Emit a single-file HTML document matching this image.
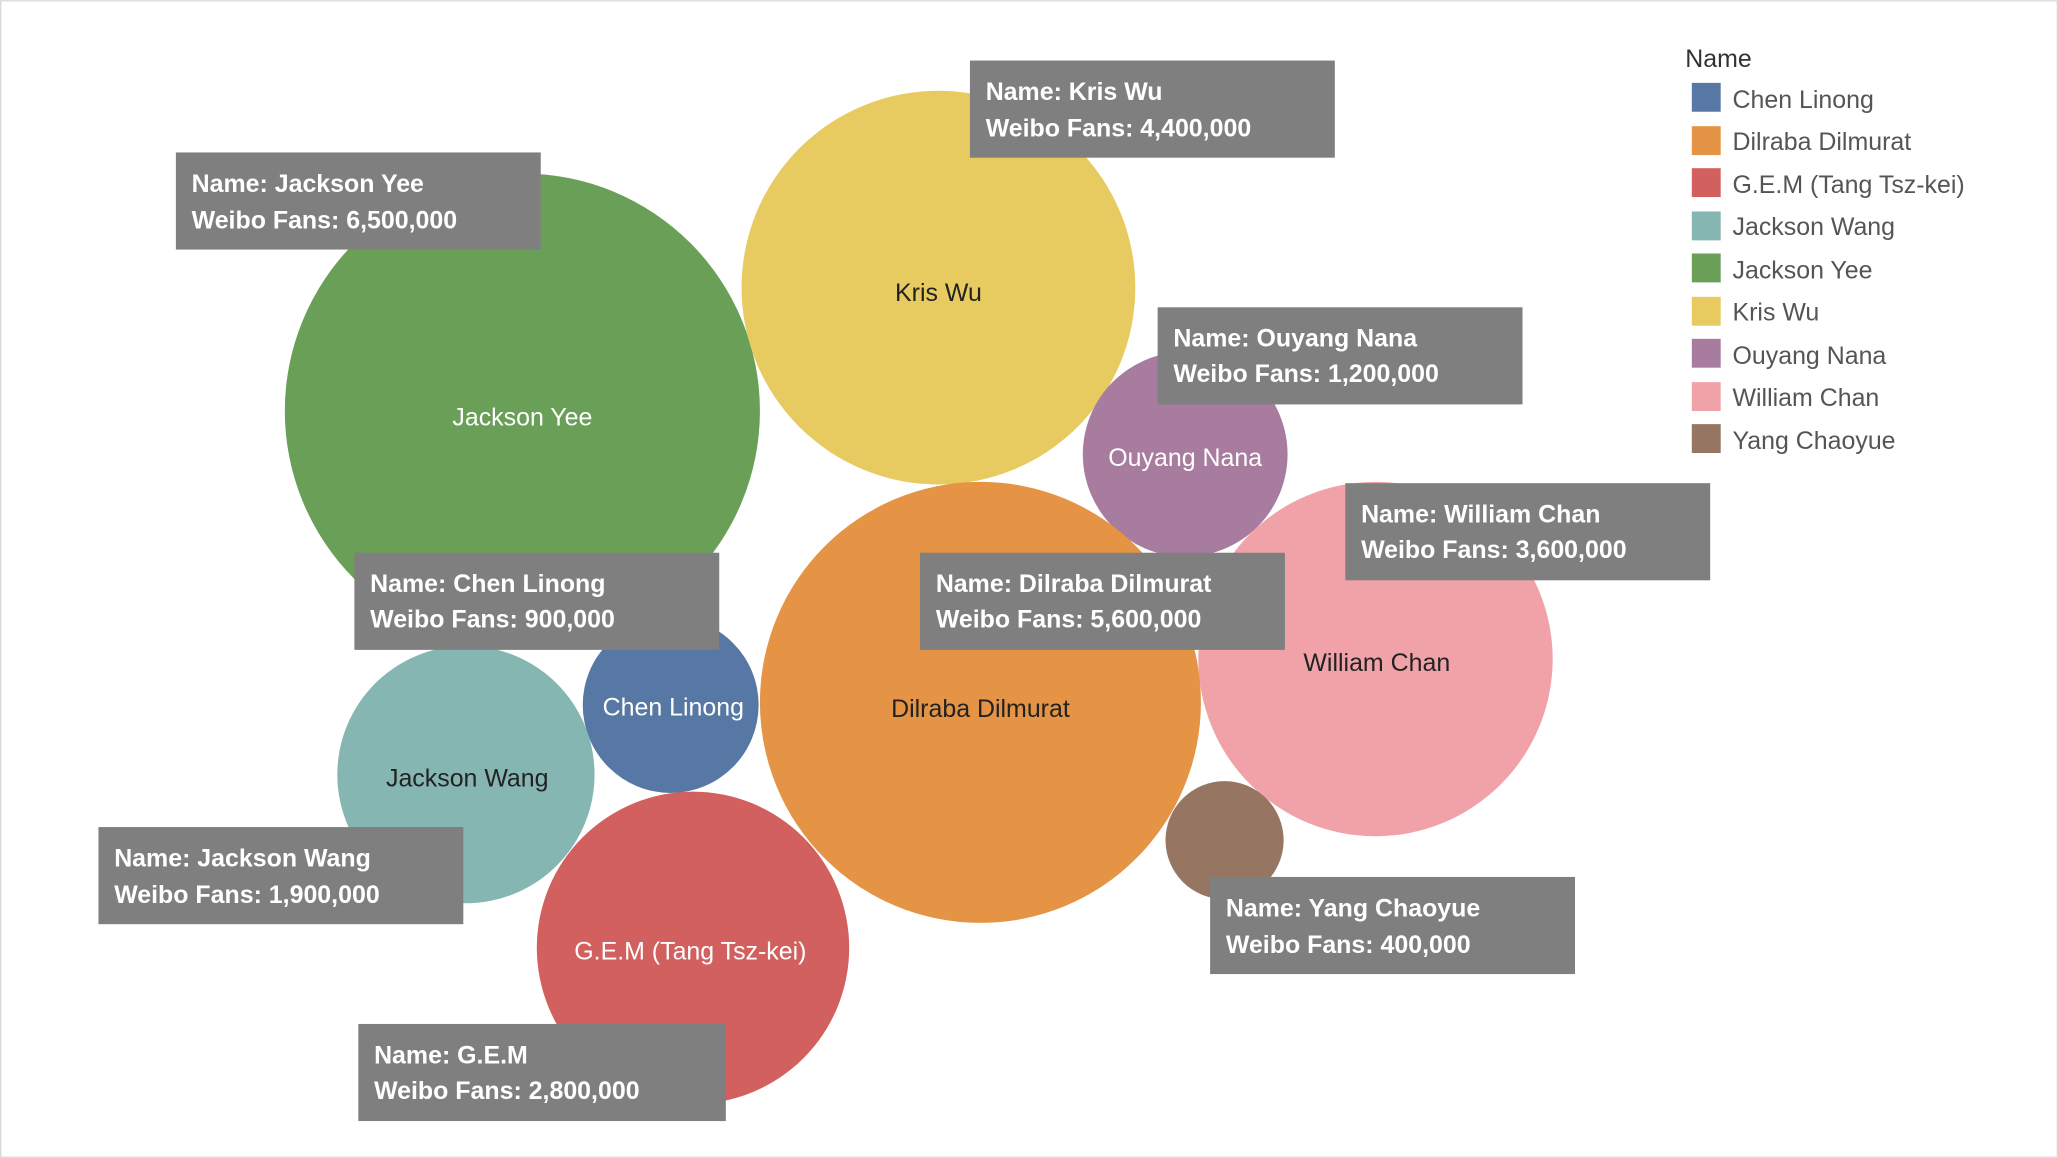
<!DOCTYPE html>
<html><head><meta charset="utf-8"><style>
html,body{margin:0;padding:0;background:#fff;}
svg{display:block;}
text{font-family:"Liberation Sans",sans-serif;}
</style></head><body>
<svg width="2058" height="1158" viewBox="0 0 1568 882" xmlns="http://www.w3.org/2000/svg">
<rect x="0.5" y="0.5" width="1567" height="881" fill="#fff" stroke="#d8d8d8"/>
<g>
<circle cx="398" cy="313" r="181" fill="#6a9f58"/>
<circle cx="715" cy="219" r="150" fill="#e7ca60"/>
<circle cx="903" cy="346" r="78" fill="#a87c9f"/>
<circle cx="1048" cy="502" r="135" fill="#f1a2a9"/>
<circle cx="747" cy="535" r="168" fill="#e49444"/>
<circle cx="511" cy="537" r="67" fill="#5778a4"/>
<circle cx="355" cy="590" r="98" fill="#85b6b2"/>
<circle cx="528" cy="722" r="119" fill="#d1605e"/>
<circle cx="933" cy="640" r="45" fill="#967662"/>
</g>
<g font-size="19" text-anchor="middle">
<text x="398" y="324" fill="#fff">Jackson Yee</text>
<text x="715" y="229" fill="#222">Kris Wu</text>
<text x="903" y="355" fill="#fff">Ouyang Nana</text>
<text x="1049" y="511" fill="#222">William Chan</text>
<text x="747" y="546" fill="#222">Dilraba Dilmurat</text>
<text x="513" y="545" fill="#fff">Chen Linong</text>
<text x="356" y="599" fill="#222">Jackson Wang</text>
<text x="526" y="731" fill="#fff">G.E.M (Tang Tsz-kei)</text>
</g>
<g font-size="19" font-weight="bold" fill="#fff">
<rect x="134" y="116" width="278" height="74" fill="#7f7f7f"/>
<text x="146" y="146">Name: Jackson Yee</text><text x="146" y="174">Weibo Fans: 6,500,000</text>
<rect x="739" y="46" width="278" height="74" fill="#7f7f7f"/>
<text x="751" y="76">Name: Kris Wu</text><text x="751" y="104">Weibo Fans: 4,400,000</text>
<rect x="882" y="234" width="278" height="74" fill="#7f7f7f"/>
<text x="894" y="264">Name: Ouyang Nana</text><text x="894" y="291">Weibo Fans: 1,200,000</text>
<rect x="1025" y="368" width="278" height="74" fill="#7f7f7f"/>
<text x="1037" y="398">Name: William Chan</text><text x="1037" y="425">Weibo Fans: 3,600,000</text>
<rect x="270" y="421" width="278" height="74" fill="#7f7f7f"/>
<text x="282" y="451">Name: Chen Linong</text><text x="282" y="478">Weibo Fans: 900,000</text>
<rect x="701" y="421" width="278" height="74" fill="#7f7f7f"/>
<text x="713" y="451">Name: Dilraba Dilmurat</text><text x="713" y="478">Weibo Fans: 5,600,000</text>
<rect x="75" y="630" width="278" height="74" fill="#7f7f7f"/>
<text x="87" y="660">Name: Jackson Wang</text><text x="87" y="688">Weibo Fans: 1,900,000</text>
<rect x="922" y="668" width="278" height="74" fill="#7f7f7f"/>
<text x="934" y="698">Name: Yang Chaoyue</text><text x="934" y="726">Weibo Fans: 400,000</text>
<rect x="273" y="780" width="280" height="74" fill="#7f7f7f"/>
<text x="285" y="810">Name: G.E.M</text><text x="285" y="837">Weibo Fans: 2,800,000</text>
</g>
<g font-size="19" fill="#555">
<text x="1284" y="51" fill="#333">Name</text>
<rect x="1289" y="63" width="22" height="22" fill="#5778a4"/><text x="1320" y="82">Chen Linong</text>
<rect x="1289" y="96" width="22" height="22" fill="#e49444"/><text x="1320" y="114">Dilraba Dilmurat</text>
<rect x="1289" y="128" width="22" height="22" fill="#d1605e"/><text x="1320" y="147">G.E.M (Tang Tsz-kei)</text>
<rect x="1289" y="161" width="22" height="22" fill="#85b6b2"/><text x="1320" y="179">Jackson Wang</text>
<rect x="1289" y="193" width="22" height="22" fill="#6a9f58"/><text x="1320" y="212">Jackson Yee</text>
<rect x="1289" y="226" width="22" height="22" fill="#e7ca60"/><text x="1320" y="244">Kris Wu</text>
<rect x="1289" y="258" width="22" height="22" fill="#a87c9f"/><text x="1320" y="277">Ouyang Nana</text>
<rect x="1289" y="291" width="22" height="22" fill="#f1a2a9"/><text x="1320" y="309">William Chan</text>
<rect x="1289" y="323" width="22" height="22" fill="#967662"/><text x="1320" y="342">Yang Chaoyue</text>
</g>
</svg>
</body></html>
